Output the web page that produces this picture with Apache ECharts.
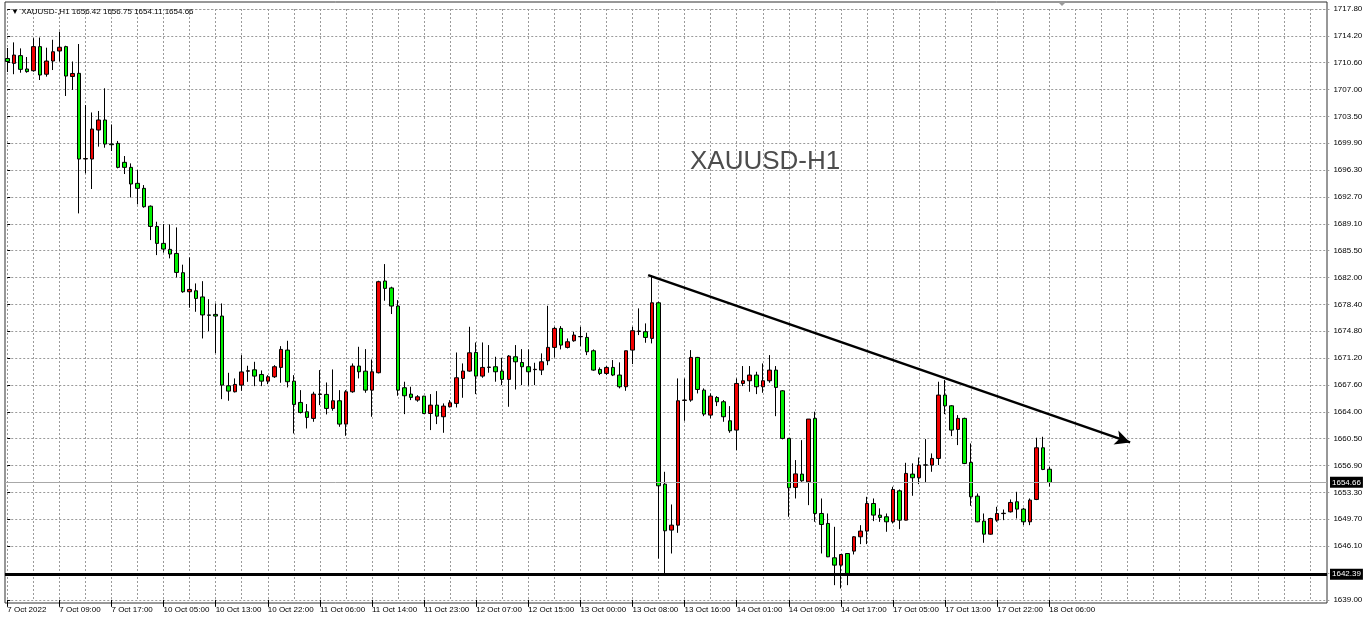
<!DOCTYPE html>
<html>
<head>
<meta charset="utf-8">
<script src="https://cdn.jsdelivr.net/npm/echarts@6/dist/echarts.min.js"></script>
<style>
html,body{margin:0;padding:0;background:#fff;}
#chart{width:1366px;height:620px;}
</style>
</head>
<body>
<div id="chart"></div>
<script>
// ---- data (XAUUSD H1, bars 7 Oct 2022 01:00 .. 18 Oct 2022 06:00) ----
const tickLabels = ['7 Oct 2022','7 Oct 09:00','7 Oct 17:00','10 Oct 05:00','10 Oct 13:00','10 Oct 22:00',
  '11 Oct 06:00','11 Oct 14:00','11 Oct 23:00','12 Oct 07:00','12 Oct 15:00','13 Oct 00:00','13 Oct 08:00',
  '13 Oct 16:00','14 Oct 01:00','14 Oct 09:00','14 Oct 17:00','17 Oct 05:00','17 Oct 13:00','17 Oct 22:00','18 Oct 06:00'];
const priceTickLabels = ['1639.00','','1646.10','1649.70','1653.30','1656.90','1660.50','1664.00','1667.60',
  '1671.20','1674.80','1678.40','1682.00','1685.50','1689.10','1692.70','1696.30','1699.90','1703.50',
  '1707.00','1710.60','1714.20','1717.80'];
const opens = [1711.2,1710.55,1711.58,1709.8,1709.57,1712.78,1709.1,1710.86,1712.2,1712.78,
1708.8,1709.22,1697.8,1697.79,1701.66,1703.0,1699.8,1699.88,1697.35,1696.68,
1694.55,1693.88,1691.5,1688.8,1686.54,1685.74,1685.2,1682.63,1680.09,1680.22,
1679.4,1677.0,1677.07,1676.85,1667.55,1666.75,1667.64,1669.5,1669.68,1669.06,
1668.17,1668.75,1670.0,1672.31,1668.17,1665.33,1664.08,1663.2,1666.4,1666.4,
1664.53,1665.55,1662.44,1666.75,1670.18,1669.5,1666.97,1669.29,1681.52,1680.6,
1678.18,1667.29,1666.44,1665.64,1666.17,1663.86,1664.97,1663.42,1664.75,1665.2,
1668.53,1669.51,1672.0,1668.84,1670.0,1670.09,1669.51,1668.4,1671.42,1670.66,
1670.09,1669.7,1669.64,1670.89,1672.67,1675.2,1672.67,1673.55,1674.09,1674.0,
1672.22,1669.73,1669.2,1670.0,1668.98,1667.42,1672.31,1674.8,1674.76,1673.87,
1678.62,1654.43,1648.3,1648.96,1665.6,1665.64,1671.33,1666.97,1663.64,1665.99,
1665.42,1662.88,1661.64,1667.86,1668.22,1668.98,1667.42,1668.22,1669.64,1666.88,
1660.53,1654.0,1655.77,1654.74,1663.2,1650.52,1649.19,1644.61,1643.63,1645.18,
1645.5,1647.41,1648.17,1651.85,1650.3,1650.08,1649.41,1653.54,1649.63,1655.77,
1655.28,1656.97,1656.97,1657.86,1666.31,1664.88,1661.73,1663.2,1657.33,1652.83,
1649.5,1647.76,1649.63,1650.5,1650.74,1652.08,1651.1,1649.41,1652.39,1659.28,
1656.42];
const highs = [1712.6,1713.35,1712.55,1711.4,1713.9,1714.0,1712.64,1713.7,1714.78,1712.9,
1710.8,1713.13,1704.99,1704.0,1704.2,1707.22,1702.4,1700.2,1698.19,1697.21,
1696.32,1694.32,1691.6,1689.43,1689.12,1689.07,1688.67,1683.7,1684.67,1681.2,
1681.5,1679.1,1678.53,1678.53,1669.28,1668.53,1671.64,1670.22,1670.75,1669.6,
1668.97,1670.3,1672.84,1673.55,1668.97,1666.97,1665.11,1666.75,1669.64,1667.99,
1669.73,1666.97,1666.97,1670.53,1672.75,1672.44,1671.06,1681.56,1683.78,1680.76,
1678.98,1668.09,1667.42,1666.3,1666.2,1666.44,1666.84,1665.2,1665.64,1671.99,
1670.53,1675.42,1673.33,1673.33,1672.98,1671.42,1671.28,1671.64,1672.98,1672.44,
1672.4,1670.62,1671.87,1678.22,1675.42,1675.51,1673.87,1674.76,1675.42,1674.62,
1672.4,1670.0,1670.18,1670.98,1670.67,1672.22,1675.42,1677.87,1675.87,1682.3,
1678.76,1656.08,1651.72,1668.53,1668.53,1672.31,1671.4,1667.2,1666.53,1666.17,
1665.64,1664.84,1668.53,1670.18,1670.18,1669.42,1670.53,1671.64,1670.18,1666.97,
1660.6,1657.64,1660.3,1663.11,1664.09,1652.52,1650.52,1648.74,1645.1,1645.2,
1647.5,1648.96,1652.74,1652.52,1651.2,1650.52,1654.08,1653.72,1657.28,1657.2,
1657.99,1660.44,1658.53,1668.09,1668.31,1664.97,1663.64,1663.3,1659.86,1653.19,
1650.52,1649.94,1651.41,1651.05,1652.39,1653.41,1651.28,1652.52,1660.62,1660.75,
1656.75];
const lows = [1709.4,1709.1,1709.3,1709.3,1709.44,1708.33,1708.78,1709.66,1710.8,1706.2,
1707.0,1690.54,1695.88,1693.79,1699.44,1699.3,1698.86,1696.55,1695.79,1692.67,
1691.74,1691.3,1686.98,1684.98,1685.3,1684.54,1682.0,1679.96,1677.96,1677.42,
1673.86,1674.84,1671.9,1665.77,1665.55,1666.66,1666.88,1668.08,1667.5,1667.5,
1667.77,1668.6,1667.95,1667.33,1661.19,1663.86,1661.86,1662.75,1664.97,1663.73,
1664.22,1662.08,1660.88,1666.62,1668.53,1666.62,1663.42,1669.2,1678.89,1677.12,
1666.22,1663.77,1665.64,1665.42,1663.77,1661.64,1662.44,1661.28,1664.66,1664.66,
1665.95,1669.42,1666.44,1668.62,1669.29,1668.09,1667.64,1664.75,1667.06,1667.64,
1667.55,1667.64,1668.98,1670.3,1671.33,1672.4,1672.53,1673.42,1672.85,1671.64,
1669.55,1668.98,1668.98,1668.84,1667.2,1666.88,1670.44,1674.31,1673.29,1673.2,
1644.51,1642.43,1645.18,1647.94,1662.88,1665.42,1666.53,1663.5,1663.2,1664.84,
1662.75,1661.28,1658.97,1667.51,1666.75,1666.44,1666.62,1667.95,1663.5,1660.4,
1650.08,1652.52,1654.74,1651.63,1649.41,1645.18,1644.7,1640.96,1640.52,1640.96,
1645.05,1646.43,1646.43,1649.5,1649.4,1648.08,1649.19,1648.43,1649.6,1652.88,
1654.43,1654.66,1656.08,1656.97,1663.77,1660.84,1659.64,1657.1,1651.54,1649.35,
1646.61,1647.7,1649.41,1649.63,1650.65,1649.85,1648.96,1648.96,1652.3,1656.3,
1654.11];
const closes = [1710.8,1711.66,1709.75,1709.45,1712.78,1709.0,1710.86,1712.1,1712.7,1708.86,
1709.2,1697.79,1697.85,1701.79,1703.0,1699.79,1699.7,1696.68,1696.68,1694.46,
1693.88,1691.43,1688.8,1686.54,1685.78,1685.12,1682.67,1680.09,1680.4,1679.2,
1677.0,1676.95,1676.85,1667.64,1666.84,1667.73,1669.4,1669.55,1668.84,1668.17,
1668.75,1670.09,1672.4,1668.09,1665.06,1663.99,1663.33,1666.44,1666.45,1664.53,
1665.55,1662.44,1666.75,1670.18,1669.42,1666.97,1669.42,1681.43,1680.54,1678.18,
1666.97,1666.22,1666.0,1666.08,1663.86,1664.97,1663.5,1664.84,1665.28,1668.62,
1669.51,1671.95,1668.84,1670.0,1670.05,1669.42,1668.4,1671.51,1670.75,1670.09,
1669.42,1669.75,1670.75,1672.67,1675.2,1672.98,1673.42,1674.31,1674.12,1672.09,
1669.64,1669.2,1670.0,1668.98,1667.42,1672.22,1674.89,1674.85,1674.0,1678.62,
1654.21,1648.21,1648.96,1665.55,1665.65,1671.33,1667.06,1663.77,1666.17,1665.42,
1663.42,1661.55,1667.86,1668.22,1668.98,1667.42,1668.22,1669.64,1667.33,1660.53,
1653.94,1655.8,1654.88,1663.11,1650.52,1649.05,1644.74,1643.63,1645.05,1642.52,
1647.41,1648.17,1651.85,1650.3,1649.99,1649.41,1653.72,1649.63,1655.86,1655.28,
1656.97,1657.0,1657.86,1666.31,1664.88,1661.64,1663.2,1657.19,1652.74,1649.41,
1647.76,1649.85,1650.52,1650.55,1651.99,1651.1,1649.41,1652.3,1659.28,1656.39,
1654.66];
const supportLevel = 1642.39;
const bidLevel = 1654.66;
const trendStart = [98.4, 1682.3];   // [bar index, price]
const trendEnd = [172.4, 1660.0];
const headerText = 'XAUUSD-,H1 1656.42 1656.75 1654.11 1654.66';
const chartTitle = 'XAUUSD-H1';

// ---- build ----
const TOTAL_SLOTS = 204;           // bars + right shift
const BARS_PER_LABEL = 8;
const categories = Array.from({length: TOTAL_SLOTS}, (_, i) => i);
const candleData = opens.map((o, i) => [o, closes[i], lows[i], highs[i]]);
const yMin = 1639.0, yMax = 1717.8;
const yStep = (yMax - yMin) / (priceTickLabels.length - 1);
const FONT = 'Liberation Sans';

const chart = echarts.init(document.getElementById('chart'), null, {renderer: 'canvas'});
chart.setOption({
  animation: false,
  backgroundColor: '#ffffff',
  title: [
    {text: '\u25BC ' + headerText, left: 6, top: 3,
     textStyle: {fontFamily: FONT, fontSize: 8, fontWeight: 'normal', color: '#000'}},
    {text: chartTitle, left: 685, top: 144,
     textStyle: {fontFamily: FONT, fontSize: 26, fontWeight: 'normal', color: '#4d4d4d'}}
  ],
  grid: [
    {left: 7.25, right: 36.6, top: 9.0, bottom: 20.15, show: false},
    {left: 5, right: 39, top: 2, bottom: 17, show: true, borderColor: '#303030', borderWidth: 1,
     backgroundColor: 'transparent'}
  ],
  xAxis: [
    {type: 'category', gridIndex: 0, data: categories, boundaryGap: false,
     axisLine: {show: false},
     axisTick: {show: true, length: 7, interval: (i) => i % BARS_PER_LABEL === 0 && i / BARS_PER_LABEL < tickLabels.length,
                lineStyle: {color: '#000'}},
     axisLabel: {show: true, interval: (i) => i % BARS_PER_LABEL === 0, align: 'left', margin: 6,
                 fontFamily: FONT, fontSize: 8, color: '#000',
                 formatter: (v, i) => (i % BARS_PER_LABEL === 0 && tickLabels[i / BARS_PER_LABEL]) || ''},
     splitLine: {show: true, interval: (i) => i % 4 === 0,
                 lineStyle: {color: '#9a9a9a', type: [2, 2], width: 1}}},
    {type: 'value', gridIndex: 0, min: 0, max: TOTAL_SLOTS - 1, show: false},
    {type: 'value', gridIndex: 1, min: 0, max: 1, show: false}
  ],
  yAxis: [
    {type: 'value', gridIndex: 0, position: 'right', min: yMin, max: yMax, interval: yStep, scale: true,
     axisLine: {show: false},
     axisTick: {show: true, length: 3, lineStyle: {color: '#000'}},
     axisLabel: {margin: 4, fontFamily: FONT, fontSize: 8, color: '#000',
                 formatter: (v) => priceTickLabels[Math.round((v - yMin) / yStep)] || ''},
     splitLine: {show: true, lineStyle: {color: '#9a9a9a', type: [2, 2], width: 1}}},
    {type: 'value', gridIndex: 1, min: 1638.56, max: 1718.74, show: false, scale: true}
  ],
  series: [
    {type: 'candlestick', xAxisIndex: 0, yAxisIndex: 0, data: candleData, barWidth: 4,
     itemStyle: {color: '#f00000', color0: '#00f000', borderColor: '#000', borderColor0: '#000',
                 borderColorDoji: '#000', borderWidth: 1}},
    {type: 'line', xAxisIndex: 1, yAxisIndex: 0, data: [], silent: true,
     markLine: {silent: true, symbol: ['none', 'arrow'], symbolSize: [11, 15], animation: false,
                lineStyle: {color: '#000', width: 2.5, type: 'solid'}, label: {show: false},
                data: [[{coord: trendStart}, {coord: trendEnd}]]}},
    {type: 'line', xAxisIndex: 2, yAxisIndex: 1, data: [], silent: true,
     markLine: {silent: true, symbol: 'none', animation: false,
                label: {show: true, position: 'end', distance: 3, formatter: (p) => p.value.toFixed(2),
                        backgroundColor: '#000', color: '#fff', fontFamily: FONT, fontSize: 8, padding: [2, 2, 1, 2]},
                data: [
                  {yAxis: bidLevel, lineStyle: {color: '#a8a8a8', width: 1, type: 'solid'}},
                  {yAxis: supportLevel, lineStyle: {color: '#000', width: 3, type: 'solid'}}
                ]}}
  ],
  graphic: [
    {type: 'polygon', shape: {points: [[1058, 2], [1066, 2], [1062, 6]]}, style: {fill: '#9a9a9a'}, silent: true}
  ]
});
</script>
</body>
</html>
